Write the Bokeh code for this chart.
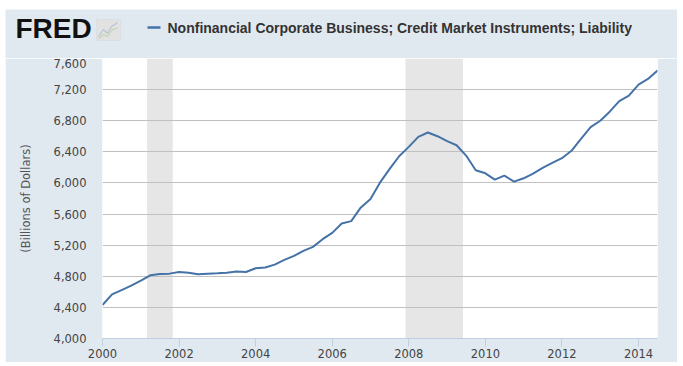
import pandas as pd
from bokeh.plotting import figure
from bokeh.layouts import column, row
from bokeh.models import (BoxAnnotation, Label, PolyAnnotation, FixedTicker,
                          NumeralTickFormatter, DatetimeTickFormatter, Range1d, Spacer)
from bokeh.embed import file_html
from bokeh.resources import INLINE

# ---- data (quarterly, billions of dollars) ----
start_quarter = "2000-01-01"
n_quarters = 59
values = [4430, 4568, 4623, 4679, 4743, 4813, 4830, 4834, 4855, 4846,
          4826, 4834, 4838, 4846, 4860, 4855, 4903, 4912, 4950, 5010,
          5062, 5126, 5178, 5277, 5358, 5479, 5509, 5685, 5793, 6004,
          6178, 6343, 6464, 6593, 6649, 6601, 6537, 6485, 6352, 6163,
          6124, 6043, 6094, 6017, 6060, 6120, 6193, 6258, 6318, 6413,
          6567, 6717, 6800, 6916, 7053, 7123, 7265, 7337, 7445]
dates = pd.date_range(start_quarter, periods=n_quarters, freq="QS")

recessions = [("2001-03-01", "2001-11-01"), ("2007-12-01", "2009-06-01")]
y_ticks = [4000, 4400, 4800, 5200, 5600, 6000, 6400, 6800, 7200, 7600]
x_tick_years = [2000, 2002, 2004, 2006, 2008, 2010, 2012, 2014]
series_name = "Nonfinancial Corporate Business; Credit Market Instruments; Liability"
y_label = "(Billions of Dollars)"

BG = "#e1e9f0"
LINE = "#4572a7"

def ms(d):
    return pd.Timestamp(d).value / 1e6

# ---------------- header (logo + legend) ----------------
h = figure(width=677, height=58, output_backend="svg", toolbar_location=None,
           x_range=Range1d(0, 677), y_range=Range1d(0, 58),
           x_axis_location=None, y_axis_location=None,
           min_border=0, min_border_left=0, min_border_right=0,
           min_border_top=0, min_border_bottom=0)
h.grid.visible = False
h.outline_line_color = None
h.background_fill_color = "white"
h.border_fill_color = "white"

def sbox(l, r, t, b, **kw):
    return BoxAnnotation(left=l, right=r, top=t, bottom=b,
                         left_units="screen", right_units="screen",
                         top_units="screen", bottom_units="screen", **kw)

h.add_layout(sbox(5, 677, 49, 0, fill_color=BG, fill_alpha=1, line_color=None,
                  level="image"))
h.add_layout(Label(x=15, y=30, x_units="screen", y_units="screen", text="FRED",
                   text_font="Liberation Sans", text_font_style="bold",
                   text_font_size="28px", text_color="#111111",
                   text_baseline="alphabetic"))
h.add_layout(sbox(96, 120, 39, 18, fill_color="#e2e2e2", fill_alpha=1,
                  line_color="#d2d2d2", line_width=1, level="overlay"))
h.add_layout(PolyAnnotation(xs=[98, 103, 107, 111, 117, 111, 107, 103],
                            ys=[22, 29, 25, 32, 36, 32, 25, 29],
                            xs_units="screen", ys_units="screen",
                            fill_alpha=0, line_color="#5a80b8", line_width=1.2,
                            level="overlay"))
h.add_layout(PolyAnnotation(xs=[98, 103, 107, 111, 117, 111, 107, 103],
                            ys=[20, 24, 22, 28, 31, 28, 22, 24],
                            xs_units="screen", ys_units="screen",
                            fill_alpha=0, line_color="#7cb342", line_width=1.2,
                            level="overlay"))
h.add_layout(sbox(147, 160, 32.2, 29.8, fill_color=LINE, fill_alpha=1,
                  line_color=None, level="overlay"))
h.add_layout(Label(x=167, y=31, x_units="screen", y_units="screen",
                   text=series_name, text_font="Liberation Sans",
                   text_font_style="bold", text_font_size="14px",
                   text_color="#333333", text_baseline="middle"))

# ---------------- main chart ----------------
p = figure(width=672, height=304, x_axis_type="datetime",
           output_backend="svg", toolbar_location=None,
           x_range=Range1d(ms("2000-01-01"), ms(dates[-1])),
           y_range=Range1d(y_ticks[0], y_ticks[-1]),
           min_border_left=97, min_border_right=20,
           min_border_top=0, min_border_bottom=24)
p.background_fill_color = "white"
p.border_fill_color = BG
p.outline_line_color = None

for a, b in recessions:
    p.add_layout(BoxAnnotation(left=ms(a), right=ms(b), fill_color="#e6e6e6",
                               fill_alpha=1, line_color=None, level="image"))

p.line(dates, values, line_color=LINE, line_width=2)

p.xgrid.grid_line_color = None
p.ygrid.grid_line_color = "#c0c0c0"
p.ygrid.grid_line_width = 1
p.ygrid.ticker = FixedTicker(ticks=y_ticks)

ya = p.yaxis[0]
ya.ticker = FixedTicker(ticks=y_ticks)
ya.formatter = NumeralTickFormatter(format="0,0")
ya.axis_line_color = None
ya.major_tick_line_color = None
ya.minor_tick_line_color = None
ya.major_tick_out = 0
ya.major_label_standoff = 16
ya.major_label_text_font = "DejaVu Sans"
ya.major_label_text_font_size = "11.5px"
ya.major_label_text_color = "#444444"
ya.axis_label = y_label
ya.axis_label_text_font = "DejaVu Sans"
ya.axis_label_text_font_size = "11.5px"
ya.axis_label_text_font_style = "normal"
ya.axis_label_text_color = "#555555"
ya.axis_label_standoff = 18

xa = p.xaxis[0]
xa.ticker = FixedTicker(ticks=[ms(f"{y}-01-01") for y in x_tick_years])
xa.formatter = DatetimeTickFormatter(years="%Y", months="%Y", days="%Y",
                                     hours="%Y", minutes="%Y", seconds="%Y",
                                     milliseconds="%Y")
xa.axis_line_color = "#c0cfdf"
xa.major_tick_line_color = "#c0cfdf"
xa.minor_tick_line_color = None
xa.major_tick_out = 8
xa.major_tick_in = 0
xa.major_label_standoff = 2
xa.major_label_text_font = "DejaVu Sans"
xa.major_label_text_font_size = "11.5px"
xa.major_label_text_color = "#444444"

layout = column(h, row(Spacer(width=5, height=304), p, spacing=0), spacing=0)
open("out.html", "w").write(file_html(layout, INLINE))
